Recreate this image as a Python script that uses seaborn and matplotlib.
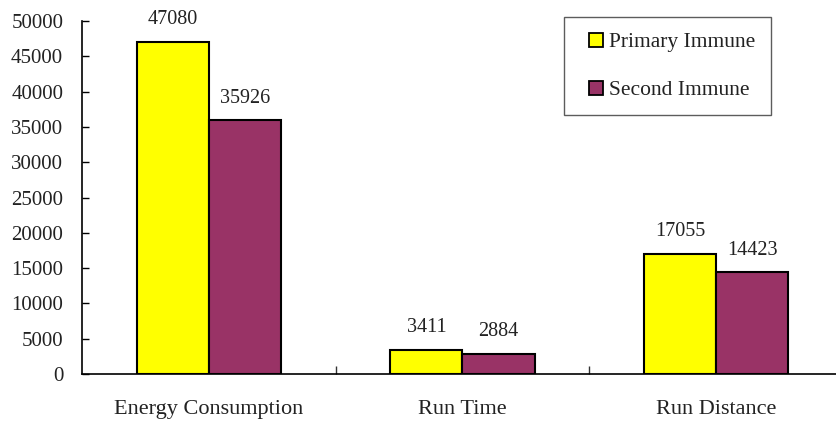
import matplotlib
matplotlib.use("Agg")
import matplotlib.pyplot as plt
from matplotlib.lines import Line2D
import pandas as pd
import seaborn as sns

categories = ["Energy Consumption", "Run Time", "Run Distance"]
primary_immune = [47080, 3411, 17055]
second_immune = [35926, 2884, 14423]
series_names = ["Primary Immune", "Second Immune"]
colors = ["#FFFF00", "#993366"]
y_ticks = list(range(0, 50001, 5000))

df = pd.DataFrame({
    "category": categories * 2,
    "value": primary_immune + second_immune,
    "series": [series_names[0]] * 3 + [series_names[1]] * 3,
})

sns.set_theme(style="white")
plt.rcParams["font.family"] = ["Liberation Serif", "DejaVu Serif"]

fig = plt.figure(figsize=(8.37, 4.23), dpi=100)
ax = fig.add_axes([82 / 837, 1 - 374 / 423, (843 - 82) / 837, 353 / 423])

sns.barplot(data=df, x="category", y="value", hue="series", order=categories,
            hue_order=series_names, palette=colors, saturation=1, width=0.57,
            edgecolor="black", linewidth=1.5, ax=ax, legend=False)

for cont in ax.containers:
    ax.bar_label(cont, fmt="%d", padding=9, fontsize=14.5, color="#222222")

ax.set_xlim(-0.5, 2.5)
ax.set_ylim(0, 50000)
ax.set_yticks(y_ticks)
ax.set_xlabel("")
ax.set_ylabel("")
ax.tick_params(axis="y", direction="in", length=5, width=1, pad=13.5,
               labelsize=15, left=True, colors="black")
ax.tick_params(axis="x", which="major", length=0, pad=19, labelsize=16)
ax.set_xticks([0.5, 1.5, 2.5], minor=True)
ax.tick_params(axis="x", which="minor", direction="in", length=6, width=1,
               bottom=True, color="#333333")
for lab in ax.get_yticklabels() + ax.get_xticklabels():
    lab.set_color("#222222")

for side in ["top", "right"]:
    ax.spines[side].set_visible(False)
for side in ["left", "bottom"]:
    ax.spines[side].set_color("black")
    ax.spines[side].set_linewidth(1.2)

# square swatches for the legend
handles = [Line2D([], [], linestyle="none", marker="s", markersize=10.5,
                  markerfacecolor=c, markeredgecolor="black", markeredgewidth=1.3)
           for c in colors]
leg = fig.legend(handles, series_names, loc="upper left",
                 bbox_to_anchor=(564 / 837, 1 - 17 / 423), borderaxespad=0,
                 fontsize=15.5, frameon=True, fancybox=False, handlelength=1.55,
                 handletextpad=-0.15, labelspacing=1.3, borderpad=0.7)
leg.get_frame().set_edgecolor("#333333")
leg.get_frame().set_linewidth(1.0)
for t in leg.get_texts():
    t.set_color("#222222")

fig.savefig("out.png", dpi=100)
